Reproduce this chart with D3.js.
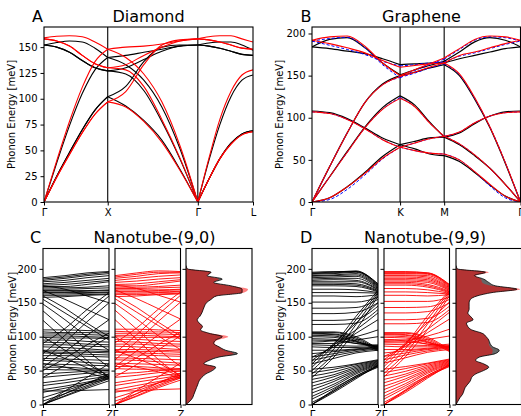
<!DOCTYPE html>
<html><head><meta charset="utf-8">
<script src="https://cdn.jsdelivr.net/npm/d3@7"></script>
<style>body{margin:0;background:#fff}svg{display:block}text{font-family:"DejaVu Sans",sans-serif;fill:#000}</style>
</head><body><svg id="c" width="521" height="416"></svg>
<script>
// ---------------- DATA ----------------
// Diamond: path Γ-X-Γ-L
const diamondTickLabels = ["Γ","X","Γ","L"];
const diamondTickK = [0, 1, 2.414, 3.28];
const diamondK = [0,0.2,0.4,0.6,0.8,1, 1.283,1.566,1.849,2.131,2.414, 2.587,2.76,2.934,3.107,3.28];
const diamondBlack = [
  [152,154.5,156,155,149,140, 142,145,148,151,152, 154,155,155,152,147],
  [0,38,74,105,128,140, 133,118,92,52,0, 40,75,102,118,123],
  [152,150,145,137,130,127, 130,138,146,151,152, 151,149,146,143,142],
  [152,150,145,137,130,127, 124,108,78,42,0, 22,42,57,66,69],
  [0,25,48,70,89,102, 112,136,150,152,152, 151,149,146,143,142],
  [0,25,48,70,89,102, 93,79,60,32,0, 22,42,57,66,69]
];
const diamondRed = [
  [159,160.5,161,160,155,148, 150,151,153,156,158, 160,161,161,158,155],
  [0,40,78,111,136,148, 140,124,97,55,0, 42,80,107,123,128],
  [158,156,151,142,134,130, 133,142,150,156,158, 157,155,152,149,148],
  [158,156,151,142,134,130, 128,112,80,43,0, 22,42,56,65,68],
  [0,24,46,67,85,97, 107,133,152,157,158, 157,155,152,149,148],
  [0,24,46,67,85,97, 92,78,58,31,0, 22,42,56,65,68]
];
// Graphene: path Γ-K-M-Γ
const grapheneTickLabels = ["Γ","K","M","Γ"];
const grapheneTickK = [0, 1.333, 2.0, 3.155];
const grapheneK = [0,0.267,0.533,0.8,1.067,1.333, 1.556,1.778,2.0, 2.231,2.462,2.693,2.924,3.155];
const grapheneBlack = [
  [0,5,18,35,54,68, 63,57,55, 48,35,20,7,0],
  [0,30,60,89,112,126, 115,95,77, 68,55,40,21,0],
  [0,42,82,118,140,150, 154,159,163, 150,122,88,46,0],
  [108,106,99,88,76,68, 72,76,77, 82,93,102,107,108],
  [184,182,179,176,170,163, 164,165,165, 170,174,178,182,184],
  [184,193,195,183,165,151, 157,162,167, 178,190,195,192,184]
];
const grapheneRed = [
  [0,5,18,34,52,65, 61,58,57, 50,36,21,7,0],
  [0,30,59,88,110,123, 113,94,78, 69,56,40,21,0],
  [0,42,82,118,139,149, 154,160,165, 152,124,89,47,0],
  [107,105,98,87,74,65, 70,75,78, 83,94,102,106,107],
  [192,188,183,177,168,160, 162,164,165, 174,178,183,188,192],
  [192,196,197,185,165,150, 157,164,171, 182,193,197,196,192]
];
const grapheneBlue = [
  [0,3,15,32,51,65, 61,58,57, 50,36,19,5,0],
  [0,30,59,88,110,124, 113,94,78, 69,56,40,21,0],
  [0,42,82,118,139,148, 153,159,164, 151,123,89,47,0],
  [107,105,98,87,74,65, 70,75,78, 83,94,102,106,107],
  [191,186,181,175,167,161.5, 163,165,166, 173,177,182,187,191],
  [191,194,195.5,183,163,147.5, 156,163,169.5, 181,192,196,195,191]
];
// Nanotubes: energies at Γ, 1/3, 2/3 and Z
const tubeK = [0, 0.333, 0.667, 1];
const tube90Black = [
  [187,190,194,196],[185,188,192,195],[183,186,190,193],[181,183,187,190],[178,180,183,186],[176,177,180,183],[174,174,177,181],[172,172,173,175],[170,170,171,172],[168,168,168,169],[166,166,167,168],[165,165,165,166],[163,163,164,165],[161,161,162,163],[158,159,161,162],
  [175,170,160,150],[168,155,140,125],[160,142,120,100],[155,135,115,95],[148,125,100,80],[138,110,80,55],[124,95,65,40],
  [40,58,80,100],[50,68,88,105],[55,78,102,125],[65,92,122,150],[75,102,132,160],[90,112,140,165],
  [110,110,109,108],[107,106,106,105],[104,104,103,102],[101,101,100,99],[99,98,98,97],
  [95,95,93,92],[92,91,89,88],[88,88,86,85],[85,84,82,80],[80,80,79,78],[78,77,77,76],[76,75,74,73],
  [72,72,71,70],[68,67,66,65],[65,64,62,60],[60,59,58,57],[55,55,53,52],[52,51,51,50],
  [0,12,24,35],[0,13,26,38],[0,16,31,45],[0,20,40,60],[5,16,28,40],[10,20,31,42],[18,24,31,38],[22,27,33,40],[28,32,37,42],[32,36,41,45],[40,43,46,48],[45,47,49,50],[20,20,21,22],
  [60,55,47,38],[80,68,54,40],[100,80,60,42]
];
const tube90Red = [
  [190,194,197,196],[188,192,195,195],[186,189,193,194],[183,186,189,191],[180,182,185,187],[177,178,181,184],[175,175,178,182],[173,173,174,176],[171,171,172,173],[169,169,169,170],[167,167,168,169],[166,166,166,167],[164,164,165,166],[162,162,163,164],[159,160,162,163],
  [176,171,161,151],[169,156,141,126],[161,143,121,101],[156,136,116,96],[149,126,101,81],[139,111,81,56],[125,96,66,41],
  [41,59,81,101],[51,69,89,106],[56,79,103,126],[66,93,123,151],[76,103,133,161],[91,113,141,166],
  [111,111,110,109],[108,107,107,106],[105,105,104,103],[102,102,101,100],[100,99,99,98],
  [96,96,94,93],[93,92,90,89],[89,89,87,86],[86,85,83,81],[81,81,80,79],[79,78,78,77],[77,76,75,74],
  [73,73,72,71],[69,68,67,66],[66,65,63,61],[61,60,59,58],[56,56,54,53],[53,52,52,51],
  [0,12,25,36],[0,13,27,39],[0,16,32,46],[0,21,41,61],[5,16,29,41],[10,20,32,43],[18,24,32,39],[22,28,34,41],[28,33,38,43],[32,37,42,46],[40,43,47,49],[45,47,50,51],[20,20,22,23],
  [60,55,48,39],[80,68,55,41],[100,80,61,43]
];
const tube99Black = [
  [195,196,196,178],[194,195,197,177],[193,194,196,176],[192,193,195,175],[190,191,193,174],[189,190,191,173],[187,188,189,172],[185,186,186,171],[183,184,183,170],[181,181,181,169],[179,179,178,168],[177,177,176,167],[175,175,174,166],
  [170,170,169,165],[165,165,165,164],[160,160,159,162],[151,151,151,158],[142,142,143,155],[134,134,136,150],[124,124,126,145],[118,118,120,140],
  [40,70,110,160],[45,75,118,163],[50,82,125,165],[55,88,130,168],[60,90,120,150],[65,88,110,135],[70,85,105,125],
  [107,107,100,82],[106,106,98,81],[105,104,96,80],[104,103,94,79],[102,101,93,84],[100,99,92,85],[97,96,90,86],[95,94,90,87],
  [60,68,76,80],[65,72,78,82],[70,75,80,83],[75,78,81,84],[80,80,82,85],[85,84,84,86],[88,87,86,88],[90,90,95,100],[92,94,100,110],
  [0,20,40,55],[0,22,42,57],[0,18,38,58],[3,20,40,56],[8,24,42,57],[12,27,45,58],[17,30,47,59],[22,34,49,60],[27,37,51,61],[32,41,53,62],[37,44,55,63],[42,48,57,64],[47,52,59,65],[52,55,60,66]
];
const tube99Red = [
  [196,196,194,177],[195,195,194,176],[194,194,193,175],[193,193,192,174],[191,191,190,173],[190,190,188,172],[188,188,186,171],[186,186,184,170],[184,184,182,169],[182,182,180,168],[180,180,177,167],[178,178,175,166],[176,176,173,165],
  [171,171,169,164],[166,166,165,163],[161,161,160,162],[152,152,152,158],[143,143,144,155],[135,135,137,150],[125,125,127,145],[119,119,121,140],
  [41,71,111,161],[46,76,119,164],[51,83,126,166],[56,89,131,168],[61,91,121,151],[66,89,111,136],[71,86,106,126],
  [106,106,99,81],[105,105,97,80],[104,103,95,79],[103,102,93,78],[101,100,92,83],[99,98,91,84],[96,95,89,85],[94,93,89,86],
  [61,69,77,81],[66,73,79,83],[71,76,81,84],[76,79,82,85],[81,81,83,86],[86,85,85,87],[89,88,87,89],[91,91,96,101],[93,95,101,111],
  [0,20,41,56],[0,22,43,58],[0,18,39,59],[3,21,41,57],[8,25,43,58],[12,28,46,59],[17,31,48,60],[22,35,50,61],[27,38,52,62],[32,42,54,63],[37,45,56,64],[42,49,58,65],[47,53,60,66],[52,56,61,67]
];
// Density of states (relative), energies every 5 meV
const dosE = [0,5,10,15,20,25,30,35,40,45,50,55,60,65,70,75,80,85,90,95,100,105,110,115,120,125,130,135,140,145,150,155,160,165,170,175,180,185,190,195,200,205];
const dos90Gray = [0,.06,.1,.12,.14,.16,.18,.2,.24,.3,.4,.45,.27,.35,.5,.78,.6,.5,.42,.45,.55,.35,.22,.25,.2,.17,.21,.24,.26,.28,.31,.38,.46,.85,.85,.68,.42,.55,.32,.38,.02,0];
const dos90Red  = [0,.06,.1,.12,.14,.16,.18,.2,.24,.29,.39,.44,.27,.34,.48,.72,.58,.5,.43,.48,.64,.37,.22,.25,.2,.17,.21,.24,.26,.28,.31,.38,.47,.88,.94,.66,.42,.5,.32,.38,.02,0];
const dos99Gray = [0,.03,.06,.1,.12,.14,.18,.22,.24,.3,.42,.5,.42,.3,.36,.6,.66,.56,.52,.5,.46,.4,.24,.18,.16,.26,.22,.18,.2,.2,.2,.22,.32,.55,.93,.6,.5,.42,.28,.45,.02,0];
const dos99Red  = [0,.03,.06,.1,.12,.14,.18,.22,.24,.3,.42,.49,.42,.3,.35,.55,.56,.52,.5,.5,.46,.4,.24,.18,.16,.26,.22,.18,.2,.2,.2,.22,.32,.57,.98,.55,.4,.38,.3,.5,.02,0];

// ---------------- DRAWING ----------------
const svg = d3.select("#c");
let clipN = 0;
function panel(o){
  const x = d3.scaleLinear().domain(o.xdom).range([o.x0,o.x1]);
  const y = d3.scaleLinear().domain([0,o.ymax]).range([o.bot,o.top]);
  const id = "clip"+(clipN++);
  svg.append("clipPath").attr("id",id).append("rect")
    .attr("x",o.x0).attr("y",o.top).attr("width",o.x1-o.x0).attr("height",o.bot-o.top);
  const plot = svg.append("g").attr("clip-path",`url(#${id})`);
  return {x,y,plot,o};
}
function finish(p, yticks, ylabels, xticks, xlabels){
  const {x,y,o} = p;
  const ya = svg.append("g").attr("transform",`translate(${o.x0},0)`)
    .call(d3.axisLeft(y).tickValues(yticks).tickSize(3.5).tickPadding(3).tickFormat(ylabels?d3.format("d"):""));
  ya.select(".domain").remove();
  ya.selectAll("text").attr("font-size","10px").attr("font-family","DejaVu Sans").attr("fill","#000");
  ya.selectAll("line").attr("stroke","#000");
  if(xticks){
    const xa = svg.append("g").attr("transform",`translate(0,${o.bot})`)
      .call(d3.axisBottom(x).tickValues(xticks).tickSize(3.5).tickPadding(3).tickFormat((d,i)=>xlabels[i]));
    xa.select(".domain").remove();
    xa.selectAll("text").attr("font-size","10px").attr("font-family","DejaVu Sans").attr("fill","#000");
    xa.selectAll("line").attr("stroke","#000");
  }
  svg.append("rect").attr("x",o.x0).attr("y",o.top).attr("width",o.x1-o.x0).attr("height",o.bot-o.top)
    .attr("fill","none").attr("stroke","#000").attr("stroke-width",1.1);
}
function bands(p, kArr, segs, data, color, w, dash){
  const line = d3.line().x(d=>p.x(d[0])).y(d=>p.y(d[1])).curve(d3.curveMonotoneX);
  data.forEach(b=>{
    segs.forEach(([a,z])=>{
      const pts = d3.range(a,z+1).map(i=>[kArr[i],b[i]]);
      p.plot.append("path").attr("d",line(pts)).attr("fill","none")
        .attr("stroke",color).attr("stroke-width",w).attr("stroke-dasharray",dash||null);
    });
  });
}
function vlines(p, ks){
  ks.forEach(k=>p.plot.append("line").attr("x1",p.x(k)).attr("x2",p.x(k))
    .attr("y1",p.o.top).attr("y2",p.o.bot).attr("stroke","#000").attr("stroke-width",1.1));
}
function title(letter, lx, text, cx, by){
  svg.append("text").attr("x",lx).attr("y",by).attr("font-size","16px").text(letter);
  svg.append("text").attr("x",cx).attr("y",by).attr("font-size","16px").attr("text-anchor","middle").text(text);
}
function ylabel(x, cy){
  svg.append("text").attr("transform",`translate(${x},${cy}) rotate(-90)`)
    .attr("text-anchor","middle").attr("font-size","10px").text("Phonon Energy [meV]");
}

// Panel A
{
  const p = panel({xdom:[0,3.28],x0:44,x1:253,top:27,bot:202,ymax:169.5});
  vlines(p,[1,2.414]);
  const segs=[[0,5],[5,10],[10,15]];
  bands(p,diamondK,segs,diamondBlack,"#000",1.1);
  bands(p,diamondK,segs,diamondRed,"#ff0000",1.1);
  finish(p,[0,25,50,75,100,125,150],true,diamondTickK,diamondTickLabels);
  ylabel(15,114.5);
  title("A",32,"Diamond",148.5,22);
}
// Panel B
{
  const p = panel({xdom:[0,3.155],x0:312,x1:520.5,top:27,bot:202,ymax:207.7});
  vlines(p,[1.333,2.0]);
  const segs=[[0,5],[5,8],[8,13]];
  bands(p,grapheneK,segs,grapheneBlack,"#000",1.2);
  bands(p,grapheneK,segs,grapheneBlue,"#0000ff",1,"3,2");
  bands(p,grapheneK,segs,grapheneRed,"#ff0000",1.1);
  finish(p,[0,50,100,150,200],true,grapheneTickK,grapheneTickLabels);
  ylabel(283,114.5);
  title("B",300.5,"Graphene",421.5,22);
}
// Panels C and D
function tubePanel(xs, blackData, redData, dosG, dosR, labelX, letter, lx, ttl, cx){
  const top=248.5, bot=404.5, ymax=230;
  const p1 = panel({xdom:[0,1],x0:xs[0][0],x1:xs[0][1],top,bot,ymax});
  bands(p1,tubeK,[[0,3]],blackData,"#000",0.9);
  finish(p1,[0,50,100,150,200],true,[0,1],["Γ","Z"]);
  const p2 = panel({xdom:[0,1],x0:xs[1][0],x1:xs[1][1],top,bot,ymax});
  bands(p2,tubeK,[[0,3]],redData,"#ff0000",0.9);
  finish(p2,[0,50,100,150,200],false,[0,1],["Γ","Z"]);
  const p3 = panel({xdom:[0,1],x0:xs[2][0],x1:xs[2][1],top,bot,ymax});
  const area = d3.area().y((d,i)=>p3.y(dosE[i])).x0(p3.x(0)).x1(d=>p3.x(d)).curve(d3.curveMonotoneY);
  const lineD = d3.line().y((d,i)=>p3.y(dosE[i])).x(d=>p3.x(d)).curve(d3.curveMonotoneY);
  p3.plot.append("path").attr("d",area(dosG)).attr("fill","rgba(0,0,0,0.6)");
  p3.plot.append("path").attr("d",area(dosR)).attr("fill","rgba(255,0,0,0.5)");
  p3.plot.append("path").attr("d",lineD(dosG)).attr("fill","none").attr("stroke","#000").attr("stroke-width",0.8);
  finish(p3,[0,50,100,150,200],false,null,null);
  ylabel(labelX,326.5);
  title(letter,lx,ttl,cx,243.3);
}
tubePanel([[43,109],[115,180.5],[186,252]],tube90Black,tube90Red,dos90Gray,dos90Red,16,"C",30,"Nanotube-(9,0)",154.5);
tubePanel([[312,378],[384,449.5],[456,521.5]],tube99Black,tube99Red,dos99Gray,dos99Red,284,"D",300,"Nanotube-(9,9)",425);
</script></body></html>
